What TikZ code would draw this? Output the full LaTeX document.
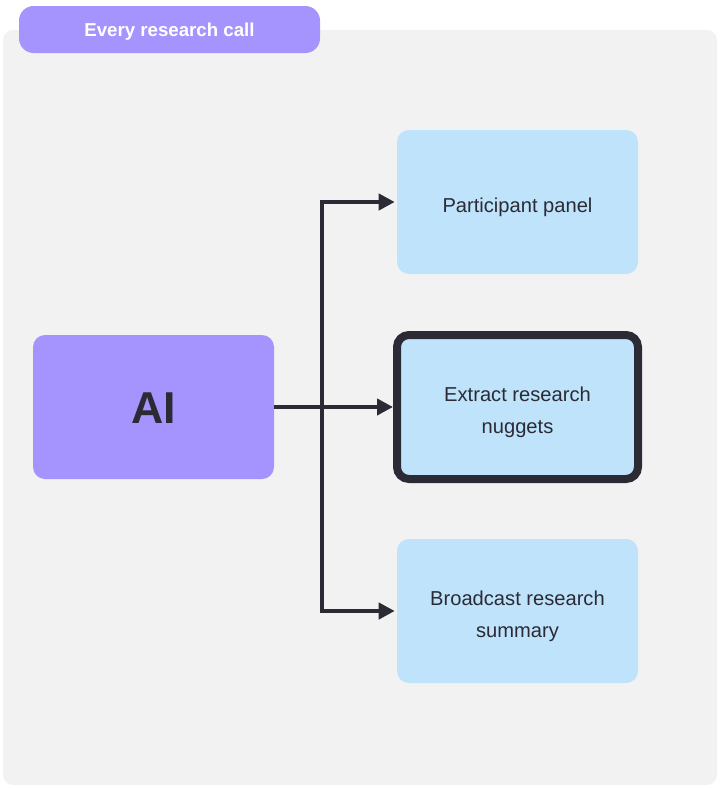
\documentclass[tikz,border=0pt]{standalone}
\usepackage{fontspec}
\setmainfont{Liberation Sans}
\usetikzlibrary{arrows.meta}
\definecolor{panelgray}{HTML}{F2F2F2}
\definecolor{lavender}{HTML}{A594FD}
\definecolor{skyblue}{HTML}{BEE3FB}
\definecolor{ink}{HTML}{2B2A35}
\tikzset{
  card/.style={rectangle, rounded corners=9pt, fill=skyblue, text=ink,
    minimum width=180.75pt, minimum height=108pt, align=center,
    font=\fontsize{15.1pt}{24pt}\selectfont, inner sep=0pt,
    text height=18.5pt, text depth=3pt},
  % two-line labels: the box baseline sits on the last line
  twoline/.style={text height=42pt, text depth=3pt},
  flow/.style={draw=ink, line width=3pt,
    -{Triangle[length=12pt,width=12pt]}},
}
\begin{document}
\begin{tikzpicture}[x=0.75pt, y=-0.75pt]
  \useasboundingbox (0,0) rectangle (721,789);
  % grey backdrop of the group
  \fill[panelgray, rounded corners=7.5pt] (3,30) rectangle (717,785);
  % group title tab
  \node[rectangle, rounded corners=11pt, fill=lavender, text=white,
        minimum width=225.75pt, minimum height=35.25pt, inner sep=0pt,
        text height=10pt, text depth=0pt,
        font=\bfseries\fontsize{14pt}{16pt}\selectfont]
        (title) at (169.5,29.5) {Every research call};
  % source
  \node[card, fill=lavender, text height=24pt, text depth=0pt,
        font=\bfseries\fontsize{33.5pt}{36pt}\selectfont]
        (ai) at (153.5,407) {AI};
  % targets
  \node[card] (pp) at (517.5,202) {Participant panel};
  \node[card, twoline, draw=ink, line width=6pt] (ex) at (517.5,407) {Extract research\\nuggets};
  \node[card, twoline] (bc) at (517.5,611) {Broadcast research\\summary};
  % connectors
  \draw[flow] (ai.east) -- (ex.west);
  \draw[flow, shorten >=1.5pt] (ai.east) -- ++(36pt,0) |- (pp.west);
  \draw[flow, shorten >=1.5pt] (ai.east) -- ++(36pt,0) |- (bc.west);
\end{tikzpicture}
\end{document}
